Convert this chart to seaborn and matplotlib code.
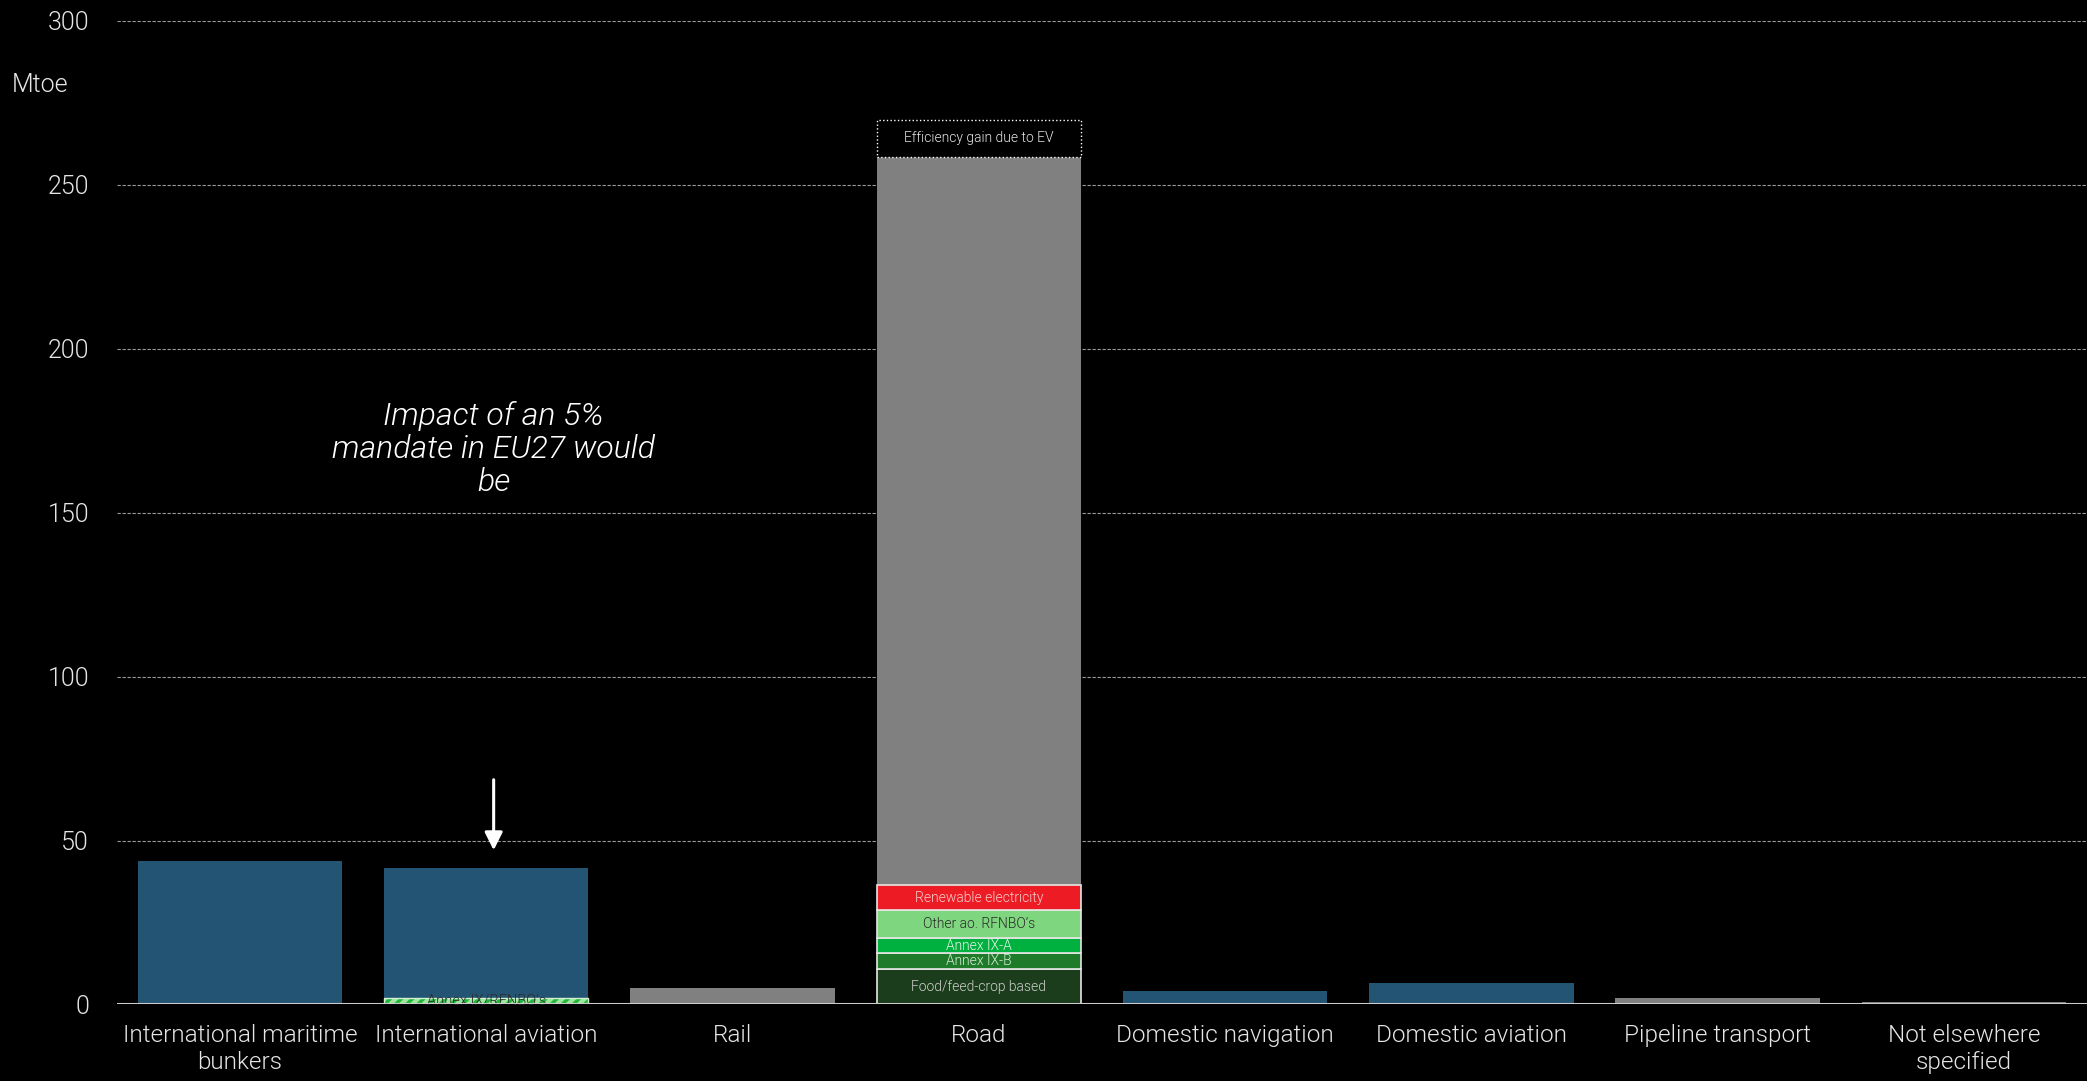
import matplotlib
matplotlib.use("Agg")
import matplotlib.pyplot as plt
import seaborn as sns
import pandas as pd
import numpy as np

# ---------------- data ----------------
categories = ["International maritime\nbunkers", "International aviation", "Rail", "Road",
              "Domestic navigation", "Domestic aviation", "Pipeline transport",
              "Not elsewhere\nspecified"]
totals = [43.8, 41.6, 5.0, 258.5, 4.1, 6.6, 2.0, 0.8]
bar_colors = ["#245473", "#245473", "#808080", "#808080",
              "#245473", "#245473", "#808080", "#808080"]

road_stack_labels = ["Food/feed-crop based", "Annex IX-B", "Annex IX-A",
                     "Other ao. RFNBO’s", "Renewable electricity"]
road_stack_values = [10.7, 4.9, 4.6, 8.5, 7.6]
road_stack_colors = ["#1b3d1b", "#1e7b2a", "#00b140", "#7ed67e", "#ed1c24"]
road_stack_text = ["#cfcfcf", "#d8ecd8", "#e8f5e8", "#2a2a2a", "#f4d0d0"]

ev_gain = 11.3
aviation_mandate = 2.1

yticks = [0, 50, 100, 150, 200, 250, 300]

# ---------------- style ----------------
sns.set_theme(style="dark")
plt.rcParams["font.family"] = ["Roboto", "DejaVu Sans"]
plt.rcParams["font.weight"] = 300
plt.rcParams["hatch.linewidth"] = 2.5

fig = plt.figure(figsize=(20.87, 10.81), dpi=100, facecolor="black")
ax = fig.add_axes([0.056, 0.0708, 0.944, 0.9098])
ax.set_facecolor("black")

df = pd.DataFrame({"category": categories, "value": totals})
sns.barplot(data=df, x="category", y="value", hue="category",
            palette=dict(zip(categories, bar_colors)), legend=False,
            width=0.83, ax=ax, saturation=1, edgecolor="none", zorder=2)

bw = 0.83
# Road stack
road_x = 3
bottoms = np.concatenate([[0], np.cumsum(road_stack_values)[:-1]])
for lab, v, b, c, tc in zip(road_stack_labels, road_stack_values, bottoms,
                            road_stack_colors, road_stack_text):
    ax.bar(road_x, v, bottom=b, width=bw, color=c, edgecolor="#e6e6e6",
           linewidth=1.2, zorder=3)
    ax.text(road_x, b + v / 2, lab, ha="center", va="center",
            fontsize=10, color=tc, fontweight=300, zorder=4)

# Efficiency gain box
ax.bar(road_x, ev_gain, bottom=totals[3], width=bw, color="black",
       edgecolor="white", linewidth=1.0, linestyle=":", zorder=3)
ax.text(road_x, totals[3] + ev_gain / 2, "Efficiency gain due to EV",
        ha="center", va="center", fontsize=10, color="#e6e6e6", zorder=4)

# Aviation mandate hatch
ax.bar(1, aviation_mandate, width=bw, color="#9ee89e", edgecolor="#22b83c",
       hatch="///", linewidth=0, zorder=3)
ax.bar(1, aviation_mandate, width=bw, facecolor="none", edgecolor="#d0f0d0",
       linewidth=1.0, zorder=3)
ax.text(1, aviation_mandate / 2 + 0.2, "Annex IX/RFNBO’s", ha="center", va="center",
        fontsize=10.5, color="#2a2a2a", zorder=4)

# Annotation + arrow
ax.text(1.03, 169.5, "Impact of an 5%\nmandate in EU27 would\nbe", ha="center",
        va="center", fontsize=23, style="italic", color="white",
        linespacing=1.12, zorder=5)
ax.annotate("", xy=(1.03, 46.2), xytext=(1.03, 69.4),
            arrowprops=dict(arrowstyle="-|>,head_width=0.45,head_length=0.9",
                            color="white", lw=2.2), zorder=5)

# axes
ax.set_xlim(-0.5, 7.5)
ax.set_ylim(0, 300)
ax.set_yticks(yticks)
ax.set_yticklabels([str(t) for t in yticks], fontsize=18, color="#e6e6e6")
ax.tick_params(axis="y", length=0, pad=20)
ax.tick_params(axis="x", length=0, pad=14, labelsize=17.5, labelcolor="#e6e6e6")
ax.set_xlabel("")
ax.set_ylabel("")
ax.grid(False)
for t in yticks[1:]:
    ax.axhline(t, color="#9a9a9a", lw=0.8, ls=(0, (3, 1.5)), zorder=1)
ax.axhline(0, color="#cccccc", lw=2.2, zorder=4)
for s in ax.spines.values():
    s.set_visible(False)
for lbl in ax.get_xticklabels():
    lbl.set_linespacing(1.25)
    lbl.set_verticalalignment("top")

fig.text(12 / 2087, 1 - 85 / 1081, "Mtoe", fontsize=18, color="#e6e6e6",
         ha="left", va="center")

fig.savefig("out.png", dpi=100, facecolor="black")
